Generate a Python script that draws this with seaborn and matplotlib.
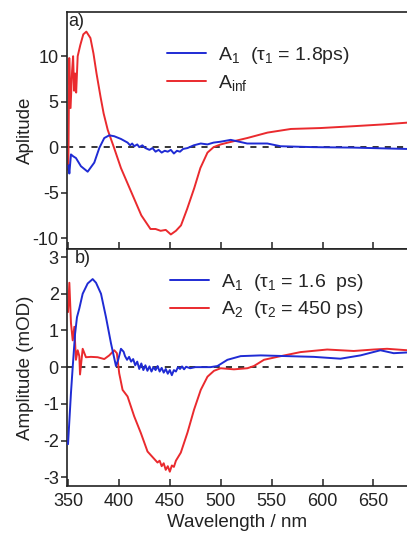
import numpy as np
import pandas as pd
import matplotlib
matplotlib.use("Agg")
import matplotlib.pyplot as plt
import seaborn as sns

# ---------------- data ----------------
# Panel a) red: A_inf
a_inf_wl = [350.3, 351.2, 352.5, 354.0, 355.0, 356.0, 357.0, 358.0, 359.5, 362.0,
            365.0, 368.0, 372.0, 375.0, 378.0, 382.0, 385.0, 389.0, 395.0, 402.0,
            412.0, 422.0, 431.0, 436.0, 441.0, 446.0, 451.0, 456.0, 461.0, 467.0,
            474.0, 480.0, 487.0, 493.0, 500.0, 507.0, 526.0, 546.0, 569.0, 598.0,
            630.0, 660.0, 684.0]
a_inf_val = [-2.5, 9.8, 4.3, 8.4, 10.0, 6.2, 8.1, 6.0, 10.0, 11.2,
             12.4, 12.7, 12.0, 10.3, 8.1, 5.5, 3.7, 1.9, 0.0, -2.3,
             -4.9, -7.5, -9.0, -9.0, -9.2, -9.1, -9.6, -9.2, -8.6, -6.8,
             -4.5, -2.3, -0.6, 0.0, 0.3, 0.5, 1.0, 1.6, 2.0, 2.1,
             2.3, 2.5, 2.7]

# Panel a) blue: A1 (tau1 = 1.8 ps)
a1a_wl = [350.5, 351.3, 352.9, 355.0, 357.8, 362.7, 369.3, 375.8, 380.7, 385.6,
          390.5, 395.4, 402.0, 408.5, 411.0, 413.0, 415.0, 418.0, 420.0, 423.0,
          426.0, 430.0, 433.0, 436.0, 439.0, 442.0, 445.0, 448.0, 451.0, 454.0,
          457.0, 460.0, 463.0, 467.4, 473.5, 480.4, 487.0, 493.0, 500.0, 509.8,
          518.0, 526.0, 545.8, 558.8, 591.0, 630.0, 683.0]
a1a_val = [-2.0, -2.9, -0.8, -1.0, -1.2, -2.1, -2.7, -1.7, -0.1, 1.0,
           1.3, 1.2, 0.9, 0.5, 0.2, 0.4, 0.1, 0.3, 0.0, 0.2,
           -0.1, -0.3, -0.1, -0.5, -0.3, -0.6, -0.4, -0.5, -0.3, -0.7,
           -0.4, -0.5, -0.2, -0.1, 0.2, 0.4, 0.3, 0.5, 0.6, 0.8,
           0.6, 0.4, 0.4, 0.1, 0.0, -0.05, -0.2]

# Panel b) blue: A1 (tau1 = 1.6 ps)
a1b_wl = [350.0, 352.9, 354.6, 356.9, 358.8, 361.1, 364.4, 369.3, 374.2, 377.5,
          382.4, 387.3, 392.2, 397.1, 399.3, 402.0, 404.6, 406.0, 408.0, 410.0,
          412.0, 414.0, 416.0, 418.0, 420.0, 422.0, 424.0, 426.0, 428.0, 430.0,
          432.0, 434.0, 436.0, 438.0, 440.0, 442.0, 444.0, 446.0, 448.0, 450.0,
          452.0, 454.0, 456.0, 458.0, 460.0, 462.0, 464.0, 466.0, 470.0, 475.0,
          480.4, 490.0, 496.8, 506.6, 519.6, 539.2, 565.4, 591.5, 617.6, 637.3,
          656.9, 669.9, 683.3]
a1b_val = [-2.1, -0.7, 0.0, 0.9, 1.36, 1.6, 2.0, 2.28, 2.4, 2.3,
           2.0, 1.36, 0.65, 0.03, 0.2, 0.5, 0.42, 0.3, 0.2, 0.28,
           0.15, 0.22, 0.05, 0.15, -0.05, 0.1, -0.08, 0.05, -0.1, 0.02,
           -0.12, 0.0, -0.08, 0.03, -0.12, -0.02, -0.15, -0.05, -0.18, -0.08,
           -0.22, -0.08, -0.12, 0.0, -0.05, 0.02, -0.06, 0.01, -0.03, 0.0,
           0.0, 0.0, 0.03, 0.2, 0.3, 0.32, 0.3, 0.28, 0.23, 0.32,
           0.46, 0.38, 0.4]

# Panel b) red: A2 (tau2 = 450 ps)
a2b_wl = [350.0, 351.3, 352.9, 354.6, 356.2, 357.8, 359.5, 361.1, 361.8, 364.4,
          367.6, 372.5, 379.1, 385.6, 390.5, 395.4, 398.0, 400.3, 403.6, 408.5,
          415.0, 421.6, 428.1, 433.0, 437.9, 440.0, 442.0, 444.0, 446.0, 448.0,
          450.0, 452.0, 454.0, 456.0, 460.8, 467.4, 473.8, 480.4, 487.0, 493.4,
          500.0, 513.0, 526.2, 532.6, 542.5, 555.6, 578.4, 604.6, 630.7, 650.3,
          663.4, 683.3]
a2b_val = [1.5, 2.3, 1.2, 0.73, 1.1, 0.2, 0.46, 0.3, -0.2, 0.5,
           0.27, 0.28, 0.27, 0.22, 0.32, 0.46, 0.38, -0.17, -0.62, -0.8,
           -1.34, -1.8, -2.3, -2.45, -2.6, -2.55, -2.7, -2.62, -2.8, -2.7,
           -2.85, -2.68, -2.72, -2.55, -2.33, -1.78, -1.16, -0.62, -0.26, -0.1,
           -0.03, -0.06, -0.03, 0.03, 0.2, 0.28, 0.41, 0.48, 0.44, 0.48,
           0.5, 0.46]

x_ticks = [350, 400, 450, 500, 550, 600, 650]
ya_ticks = [-10, -5, 0, 5, 10]
yb_ticks = [-3, -2, -1, 0, 1, 2, 3]

labels_a = ["A$_1$  (\u03c4$_1$ = 1.8ps)", "A$_{\\mathrm{inf}}$"]
labels_b = ["A$_1$  (\u03c4$_1$ = 1.6  ps)", "A$_2$  (\u03c4$_2$ = 450 ps)"]

# ---------------- style ----------------
sns.set_theme(style="ticks")
plt.rcParams['font.family'] = ['Liberation Sans', 'DejaVu Sans']
plt.rcParams['mathtext.fontset'] = 'custom'
plt.rcParams['mathtext.rm'] = 'Liberation Sans'
plt.rcParams['mathtext.it'] = 'Liberation Sans:italic'
plt.rcParams['mathtext.bf'] = 'Liberation Sans:bold'

BLUE = '#1f2bd4'
RED = '#ea2a2e'
LW = 1.4

fig = plt.figure(figsize=(4.07, 5.39), dpi=100)
gs = fig.add_gridspec(2, 1, left=67/407, right=1.0, top=1-12/539,
                      bottom=1-486/539, hspace=0.0)
axa = fig.add_subplot(gs[0])
axb = fig.add_subplot(gs[1])

df_a1a = pd.DataFrame({'wl': a1a_wl, 'v': a1a_val})
df_ainf = pd.DataFrame({'wl': a_inf_wl, 'v': a_inf_val})
df_a1b = pd.DataFrame({'wl': a1b_wl, 'v': a1b_val})
df_a2b = pd.DataFrame({'wl': a2b_wl, 'v': a2b_val})

for ax in (axa, axb):
    ax.axhline(0, color='black', lw=1.1, ls=(0, (4, 4)), zorder=1)

sns.lineplot(data=df_ainf, x='wl', y='v', ax=axa, color=RED, lw=LW,
             estimator=None, sort=False, label=labels_a[1], zorder=2)
sns.lineplot(data=df_a1a, x='wl', y='v', ax=axa, color=BLUE, lw=LW,
             estimator=None, sort=False, label=labels_a[0], zorder=3)
sns.lineplot(data=df_a2b, x='wl', y='v', ax=axb, color=RED, lw=LW,
             estimator=None, sort=False, label=labels_b[1], zorder=2)
sns.lineplot(data=df_a1b, x='wl', y='v', ax=axb, color=BLUE, lw=LW,
             estimator=None, sort=False, label=labels_b[0], zorder=3)

axa.set_xlim(349, 683)
axb.set_xlim(349, 683)
axa.set_ylim(-11.2, 14.86)
axb.set_ylim(-3.24, 3.22)

axa.set_xticks(x_ticks)
axb.set_xticks(x_ticks)
axa.set_xticklabels([])
axa.set_yticks(ya_ticks)
axb.set_yticks(yb_ticks)
axa.set_yticklabels([str(t) for t in ya_ticks])
axb.set_yticklabels([str(t) for t in yb_ticks])

for ax in (axa, axb):
    ax.spines['right'].set_visible(False)
    for s in ('left', 'top', 'bottom'):
        ax.spines[s].set_linewidth(1.2)
        ax.spines[s].set_color('#222222')
    ax.tick_params(axis='x', direction='in', length=5, width=1.1,
                   labelsize=13, pad=5, colors='#222222')
    ax.tick_params(axis='y', direction='out', length=4, width=1.1,
                   labelsize=13, pad=2, colors='#222222')
    ax.set_xlabel('')

axb.set_xlabel('Wavelength / nm', fontsize=13.5, color='#222222', labelpad=3)
axa.set_ylabel('Aplitude', fontsize=13.5, color='#222222')
axb.set_ylabel('Amplitude (mOD)', fontsize=13.5, color='#222222')
axa.yaxis.set_label_coords(-0.097, 0.5)
axb.yaxis.set_label_coords(-0.097, 0.5)

axa.text(0.003, 0.995, 'a)', transform=axa.transAxes, ha='left', va='top',
         fontsize=13, color='#222222')
axb.text(0.022, 0.995, 'b)', transform=axb.transAxes, ha='left', va='top',
         fontsize=13, color='#222222')

# legends (blue first)
for ax, anchor in ((axa, (0.294, 0.86)), (axb, (0.303, 0.905))):
    h, l = ax.get_legend_handles_labels()
    order = [1, 0]
    ax.legend([h[i] for i in order], [l[i] for i in order], loc='upper left',
              bbox_to_anchor=anchor, frameon=False, fontsize=14,
              handlelength=2.0, handletextpad=0.6, labelspacing=0.35,
              borderpad=0, borderaxespad=0)

fig.savefig('out.png', dpi=100)
